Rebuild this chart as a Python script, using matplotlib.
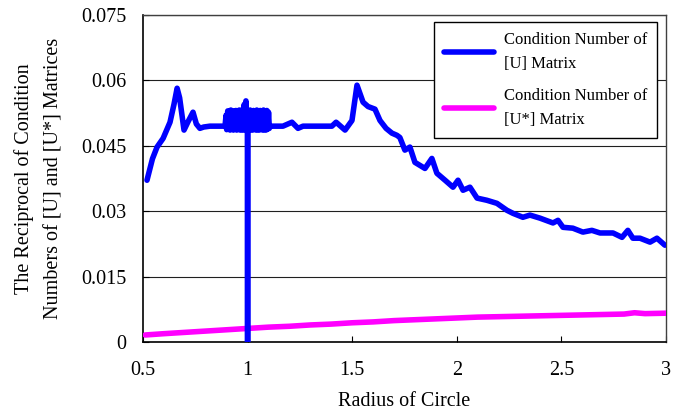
import matplotlib
matplotlib.use("Agg")
import matplotlib.pyplot as plt

# [U] matrix (blue)
u_radius = [0.519, 0.545, 0.567, 0.596, 0.629, 0.648, 0.663, 0.675, 0.696, 0.715, 0.739, 0.755, 0.772,
            0.790, 0.820, 0.892,
            0.897, 0.900, 0.905, 0.908, 0.912, 0.916, 0.920, 0.924, 0.928, 0.932, 0.936, 0.940,
            0.944, 0.948, 0.952, 0.956, 0.960, 0.964, 0.968, 0.972, 0.976, 0.980, 0.984, 0.988,
            0.992, 0.996, 0.999, 1.000, 1.001, 1.004, 1.008, 1.012, 1.016, 1.020, 1.024, 1.028,
            1.032, 1.036, 1.040, 1.044, 1.048, 1.052, 1.056, 1.060, 1.064, 1.068, 1.072, 1.076,
            1.080, 1.084, 1.088, 1.092, 1.096, 1.100, 1.104,
            1.107, 1.169, 1.212, 1.241, 1.265, 1.403, 1.423, 1.466, 1.499, 1.523, 1.552, 1.576,
            1.609, 1.633, 1.662, 1.690, 1.714, 1.728, 1.752, 1.776, 1.800, 1.848, 1.881, 1.905,
            1.944, 1.982, 2.006, 2.030, 2.063, 2.097, 2.144, 2.192, 2.240, 2.269, 2.316, 2.350,
            2.398, 2.460, 2.484, 2.508, 2.555, 2.603, 2.646, 2.685, 2.747, 2.790, 2.818, 2.842,
            2.876, 2.924, 2.957, 2.995]
u_recip = [0.0371, 0.0420, 0.0447, 0.0467, 0.0504, 0.0545, 0.0582, 0.0560, 0.0486, 0.0505, 0.0527, 0.0500, 0.0490,
           0.0493, 0.0495, 0.0495,
           0.0520, 0.0487, 0.0530, 0.0488, 0.0525, 0.0486, 0.0532, 0.0489, 0.0528, 0.0486, 0.0530, 0.0488,
           0.0531, 0.0486, 0.0527, 0.0489, 0.0532, 0.0486, 0.0529, 0.0487, 0.0533, 0.0486, 0.0545, 0.0488,
           0.0553, 0.0490, 0.0492, 0.0000, 0.0498, 0.0530, 0.0486, 0.0532, 0.0487, 0.0529, 0.0486, 0.0531,
           0.0488, 0.0530, 0.0486, 0.0532, 0.0487, 0.0528, 0.0486, 0.0531, 0.0488, 0.0530, 0.0486, 0.0532,
           0.0487, 0.0529, 0.0486, 0.0531, 0.0488, 0.0527, 0.0490,
           0.0495, 0.0495, 0.0504, 0.0490, 0.0495, 0.0495, 0.0504, 0.0486, 0.0508, 0.0589, 0.0550, 0.0540,
           0.0534, 0.0508, 0.0490, 0.0479, 0.0474, 0.0469, 0.0440, 0.0447, 0.0412, 0.0398, 0.0421, 0.0387,
           0.0371, 0.0355, 0.0371, 0.0348, 0.0355, 0.0330, 0.0325, 0.0318, 0.0302, 0.0295, 0.0286, 0.0291,
           0.0284, 0.0273, 0.0279, 0.0263, 0.0261, 0.0252, 0.0256, 0.0250, 0.0250, 0.0240, 0.0256, 0.0238,
           0.0238, 0.0229, 0.0238, 0.0222]

# [U*] matrix (magenta)
us_radius = [0.51, 0.6, 0.7, 0.8, 0.9, 1.0, 1.1, 1.2, 1.3, 1.4, 1.5, 1.6, 1.7, 1.8, 1.9, 2.0,
             2.1, 2.2, 2.3, 2.4, 2.5, 2.6, 2.7, 2.8, 2.85, 2.9, 3.0]
us_recip = [0.0016, 0.0019, 0.0022, 0.0025, 0.0028, 0.0031, 0.0034, 0.0036, 0.0039, 0.0041, 0.0044, 0.0046,
            0.0049, 0.0051, 0.0053, 0.0055, 0.0057, 0.0058, 0.0059, 0.0060, 0.0061, 0.0062, 0.0063, 0.0064,
            0.0067, 0.0065, 0.0066]

x_ticks = [0.5, 1, 1.5, 2, 2.5, 3]
x_labels = ["0.5", "1", "1.5", "2", "2.5", "3"]
y_ticks = [0, 0.015, 0.03, 0.045, 0.06, 0.075]
y_labels = ["0", "0.015", "0.03", "0.045", "0.06", "0.075"]

plt.rcParams['font.family'] = ['Liberation Serif', 'DejaVu Serif']

fig = plt.figure(figsize=(6.83, 4.13), dpi=100)
ax = fig.add_axes([0.2094, 0.172, 0.7656, 0.7917])

ax.plot(us_radius, us_recip, color='#FF00FF', linewidth=4.0, solid_capstyle='round',
        solid_joinstyle='round', label='Condition Number of\n[U*] Matrix', zorder=3)
ax.plot(u_radius, u_recip, color='#0000FF', linewidth=4.0, solid_capstyle='round',
        solid_joinstyle='round', label='Condition Number of\n[U] Matrix', zorder=4)

ax.set_xlim(0.5, 3)
ax.set_ylim(0, 0.075)
ax.set_xticks(x_ticks)
ax.set_xticklabels(x_labels)
ax.set_yticks(y_ticks)
ax.set_yticklabels(y_labels)
ax.tick_params(direction='in', labelsize=14.5, length=4, color='black')
ax.tick_params(axis='y', pad=12)
ax.tick_params(axis='x', pad=14)

# horizontal gridlines only
ax.yaxis.grid(True, color='#202020', linewidth=0.8)
ax.set_axisbelow(True)

for s in ['left', 'bottom']:
    ax.spines[s].set_color('black')
    ax.spines[s].set_linewidth(1.2)
for s in ['top', 'right']:
    ax.spines[s].set_color('#404040')
    ax.spines[s].set_linewidth(1.0)

ax.set_xlabel('Radius of Circle', fontsize=14.5, labelpad=8)
ax.set_ylabel('The Reciprocal of Condition\nNumbers of [U] and [U*] Matrices', fontsize=14.5,
              labelpad=13, linespacing=1.75)

handles, labels = ax.get_legend_handles_labels()
leg = ax.legend(handles[::-1], labels[::-1], loc='upper right', fontsize=12, fancybox=False,
                edgecolor='black', framealpha=1, handlelength=3.0, handletextpad=0.6,
                borderpad=0.6, labelspacing=0.95, borderaxespad=0,
                bbox_to_anchor=(0.983, 0.979))
leg.get_frame().set_linewidth(1.0)
for t in leg.get_texts():
    t.set_linespacing(1.7)

fig.savefig('out.png', dpi=100)
